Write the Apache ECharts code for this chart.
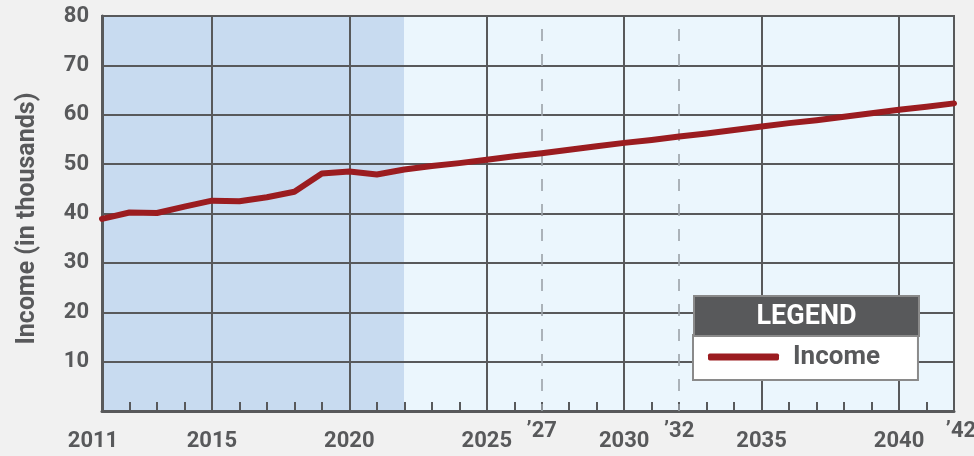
<!DOCTYPE html>
<html>
<head>
<meta charset="utf-8">
<script src="https://cdn.jsdelivr.net/npm/echarts@6/dist/echarts.min.js"></script>
<style>
html,body{margin:0;padding:0;background:#f1f1f1;}
#chart{width:974px;height:456px;}
</style>
</head>
<body>
<div id="chart"></div>
<script>
// ---- data ----
const years = [2011,2012,2013,2014,2015,2016,2017,2018,2019,2020,2021,2022,
  2023,2024,2025,2026,2027,2028,2029,2030,2031,2032,2033,2034,2035,2036,2037,2038,2039,2040,2041,2042];
const income = [38.9,40.2,40.1,41.4,42.6,42.5,43.3,44.4,48.1,48.5,47.9,48.9,
  49.6,50.2,50.9,51.6,52.2,52.9,53.6,54.3,54.9,55.6,56.2,56.9,57.6,58.3,58.9,59.6,60.3,61.0,61.6,62.3];
const labelYears = [2011,2015,2020,2025,2027,2030,2032,2035,2040,2042];
const labelTexts = ['2011','2015','2020','2025','\u201927','2030','\u201932','2035','2040','\u201942'];
const gridYears = [2015,2020,2025,2030,2035,2040];
const dashedYears = [2027,2032];
const shadeStart = 2011, shadeEnd = 2022;
const xMin = 2011, xMax = 2042;
const yMin = 0, yMax = 80, yStep = 10;
const seriesName = 'Income';
const yTitle = 'Income (in thousands)';
const legendTitle = 'LEGEND';

// ---- chart ----
const gray = '#58595b';
const red = '#9b1c20';
const chart = echarts.init(document.getElementById('chart'));
const f = (shadeEnd - xMin) / (xMax - xMin);
const font = 'Roboto, "Liberation Sans", sans-serif';
const lbl = {fontSize: 22, fontWeight: 'bold', color: gray, fontFamily: font};

const option = {
  backgroundColor: '#f1f1f1',
  animation: false,
  grid: {
    left: 102, right: 20, top: 16, bottom: 45,
    containLabel: false,
    outerBoundsMode: 'none',
    show: true,
    borderColor: gray, borderWidth: 2,
    backgroundColor: new echarts.graphic.LinearGradient(0, 0, 1, 0, [
      {offset: 0, color: '#c8dbf0'},
      {offset: f, color: '#c8dbf0'},
      {offset: f, color: '#ebf6fd'},
      {offset: 1, color: '#ebf6fd'}
    ])
  },
  xAxis: {
    type: 'value', min: xMin, max: xMax, interval: 1,
    axisLine: {show: true, lineStyle: {color: gray, width: 3}},
    axisTick: {show: true, inside: true, length: 9, lineStyle: {color: gray, width: 2}},
    splitLine: {show: false},
    axisLabel: {
      margin: 30, verticalAlign: 'middle',
      formatter: function (v) {
        const i = labelYears.indexOf(v);
        if (i < 0) return '';
        const t = labelTexts[i];
        if (v === xMin) return '{first|' + t + '}';
        if (v === xMax) return '{last|' + t + '}';
        if (t.charAt(0) === '\u2019') return '{ab|' + t + '}';
        return '{a|' + t + '}';
      },
      rich: {
        a: Object.assign({}, lbl),
        first: Object.assign({padding: [0, 18, 0, 0]}, lbl),
        ab: Object.assign({padding: [0, 0, 20, 0]}, lbl),
        last: Object.assign({padding: [0, 0, 20, 14]}, lbl)
      }
    }
  },
  yAxis: {
    type: 'value', min: yMin, max: yMax, interval: yStep,
    name: yTitle, nameLocation: 'middle', nameGap: 62,
    nameTextStyle: {fontSize: 25, fontWeight: 'bold', color: gray, fontFamily: font, padding: [0, 0, 0, -10]},
    axisLine: {show: true, lineStyle: {color: gray, width: 3}},
    axisTick: {show: false},
    splitLine: {show: true, lineStyle: {color: gray, width: 2}},
    axisLabel: {
      margin: 13, fontSize: 22, fontWeight: 'bold', color: gray, fontFamily: font,
      formatter: function (v) { return v === yMin ? '' : String(v); }
    }
  },
  legend: {
    show: true,
    z: 50,
    left: 693, top: 335,
    orient: 'horizontal',
    backgroundColor: '#ffffff',
    borderColor: '#8a8a8a', borderWidth: 2, borderRadius: 0,
    padding: [9, 38, 10, 15],
    itemWidth: 71, itemHeight: 7,
    icon: 'roundRect',
    data: [{name: seriesName, icon: 'roundRect'}],
    textStyle: {
      rich: {t: {fontSize: 26, fontWeight: 'bold', color: gray, fontFamily: font, padding: [0, 0, 0, 9], lineHeight: 30}}
    },
    formatter: function (n) { return '{t|' + n + '}'; }
  },
  graphic: [{
    type: 'group', left: 693, top: 295, z: 100,
    children: [
      {type: 'rect', z: 100, shape: {x: 0, y: 0, width: 225, height: 40},
       style: {fill: gray, stroke: '#8a8a8a', lineWidth: 2}},
      {type: 'text', z: 101, x: 112.5, y: 21,
       style: {text: legendTitle, fill: '#ffffff', font: 'bold 27px Roboto, sans-serif',
               align: 'center', verticalAlign: 'middle'}}
    ]
  }],
  series: [{
    name: seriesName,
    type: 'line',
    data: years.map((y, i) => [y, income[i]]),
    symbol: 'none',
    color: red,
    lineStyle: {color: red, width: 6, cap: 'round', join: 'round'},
    z: 6,
    markLine: {
      silent: true, symbol: 'none', label: {show: false}, z: 3,
      data: gridYears.map(y => ({xAxis: y, lineStyle: {color: gray, width: 2, type: 'solid'}}))
        .concat(dashedYears.map(y => [
          {coord: [y, yMax], lineStyle: {color: '#9ca2a8', width: 1.6, type: [12, 13], dashOffset: 12}},
          {coord: [y, yMin]}
        ]))
    }
  }]
};
chart.setOption(option);
</script>
</body>
</html>
